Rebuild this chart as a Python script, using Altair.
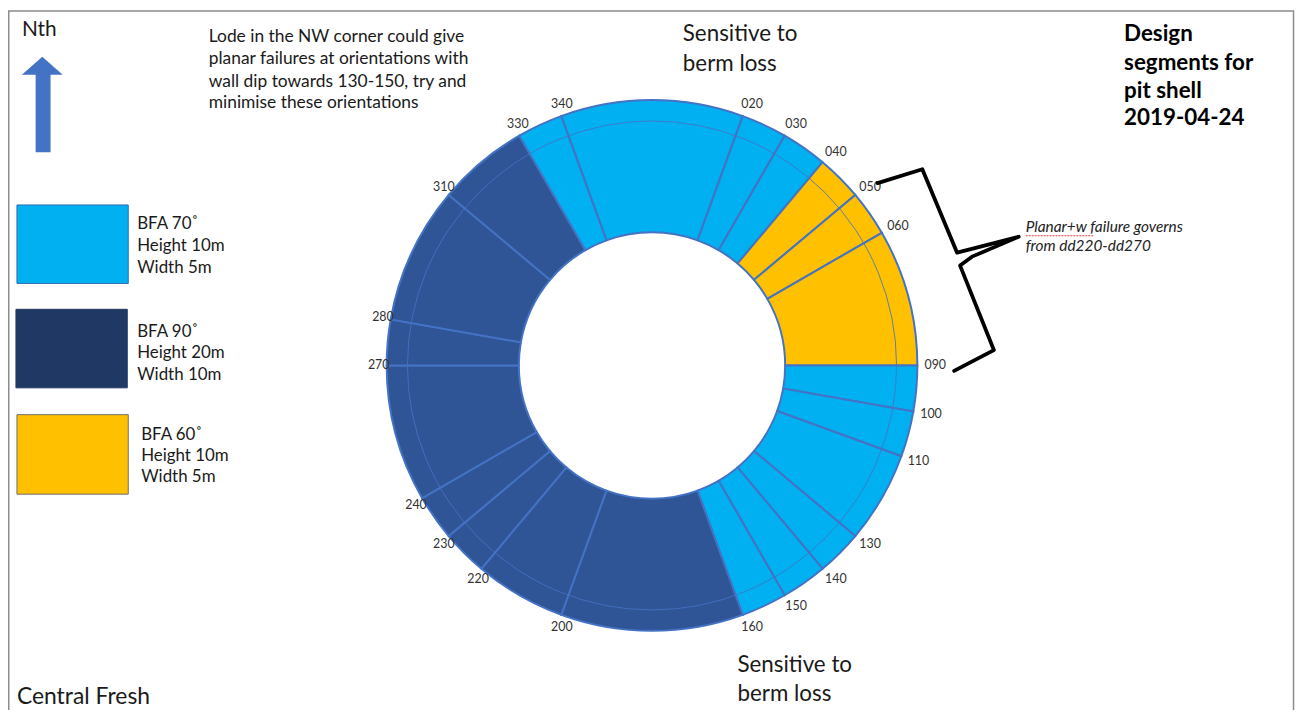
import math
import altair as alt
import pandas as pd

# ---------------- data ----------------
seg_start = [340, 20, 30, 40, 50, 60, 90, 100, 110, 130, 140, 150, 160, 200, 220, 230, 240, 270, 280, 310, 330]
seg_end = [20, 30, 40, 50, 60, 90, 100, 110, 130, 140, 150, 160, 200, 220, 230, 240, 270, 280, 310, 330, 340]
seg_design = (["BFA 70"] * 3 + ["BFA 60"] * 3 + ["BFA 70"] * 6 + ["BFA 90"] * 8 + ["BFA 70"])

tick_deg = [340, 20, 30, 40, 50, 60, 90, 100, 110, 130, 140, 150, 160, 200, 220, 230, 240, 270, 280, 310, 330]
tick_text = ["340", "020", "030", "040", "050", "060", "090", "100", "110", "130", "140",
             "150", "160", "200", "220", "230", "240", "270", "280", "310", "330"]

design_names = ["BFA 70", "BFA 90", "BFA 60"]
legend_lines = [["BFA 70˚", "Height 10m", "Width 5m"],
                ["BFA 90˚", "Height 20m", "Width 10m"],
                ["BFA 60˚", "Height 10m", "Width 5m"]]

note_lines = ["Lode in the NW corner could give",
              "planar failures at orientations with",
              "wall dip towards 130-150, try and",
              "minimise these orientations"]
title_lines = ["Design", "segments for", "pit shell", "2019-04-24"]
sensitive_lines = ["Sensitive to", "berm loss"]
planar_lines = ["Planar+w failure governs", "from dd220-dd270"]

# ---------------- styles / layout ----------------
ring_colors = ["#00B0F0", "#2F5597", "#FFC000"]
legend_fill = ["#00B0F0", "#1F3864", "#FFC000"]
legend_stroke = ["#2F6EB0", "#1F3864", "#6E6E6E"]
FONT = "Lato"
W, H = 1296, 702
OFF = 8  # page margin -> coordinates below are page pixels
CX, CY = 656 - OFF, 365.5 - OFF
R_OUT, R_IN, R_GRID, R_LABEL = 267, 134, 246, 280

xs = alt.Scale(domain=[OFF, OFF + W], nice=False, zero=False)
ys = alt.Scale(domain=[OFF, OFF + H], nice=False, zero=False, reverse=True)
theta_scale = alt.Scale(domain=[0, 360], range=[0, 2 * math.pi])


def X(f="x"):
    return alt.X(f"{f}:Q", scale=xs, axis=None)


def Y(f="y"):
    return alt.Y(f"{f}:Q", scale=ys, axis=None)


# ---------------- ring ----------------
seg = pd.DataFrame({
    "start": [s if s < e else s - 360 for s, e in zip(seg_start, seg_end)],
    "end": seg_end,
    "design": seg_design,
})

ring = alt.Chart(seg).mark_arc(
    radius=R_OUT, radius2=R_IN, stroke="#4472C4", strokeWidth=2
).encode(
    theta=alt.Theta("start:Q", scale=theta_scale, stack=None),
    theta2="end:Q",
    color=alt.Color("design:N", scale=alt.Scale(domain=design_names, range=ring_colors), legend=None),
    x=alt.value(CX), y=alt.value(CY),
)

grid = alt.Chart(pd.DataFrame({"a": [0], "b": [360]})).mark_arc(
    radius=R_GRID, fillOpacity=0, stroke="#4472C4", strokeWidth=1, strokeOpacity=0.85
).encode(
    theta=alt.Theta("a:Q", scale=theta_scale, stack=None),
    theta2="b:Q",
    x=alt.value(CX), y=alt.value(CY),
)

ticks = pd.DataFrame({"deg": tick_deg, "label": tick_text})
tick_labels = alt.Chart(ticks).mark_text(
    radius=R_LABEL, font=FONT, fontSize=12.5, color="#333333", dx=5
).encode(
    theta=alt.Theta("deg:Q", scale=theta_scale, stack=None),
    text="label:N",
    x=alt.value(CX), y=alt.value(CY),
)


# ---------------- annotations ----------------
def text_block(x, ys_list, lines, size, weight="normal", style="normal", color="#1a1a1a"):
    df = pd.DataFrame({"x": [x] * len(lines), "y": ys_list, "t": lines})
    return alt.Chart(df).mark_text(
        align="left", baseline="middle", font=FONT, fontSize=size,
        fontWeight=weight, fontStyle=style, color=color
    ).encode(x=X(), y=Y(), text="t:N")


texts = [
    text_block(22, [28], ["Nth"], 21),
    text_block(210, [35, 57.5, 80, 101.5], note_lines, 17.5),
    text_block(687, [32, 62], sensitive_lines, 22.5),
    text_block(742, [667, 696], sensitive_lines, 22.5),
    text_block(17, [699], ["Central Fresh"], 23),
    text_block(1131, [32, 61, 89, 117], title_lines, 22.5, weight="bold", color="#000000"),
    text_block(138, [223, 245, 267], legend_lines[0], 17),
    text_block(138, [332, 353, 375], legend_lines[1], 17),
    text_block(142, [435, 457, 478], legend_lines[2], 17),
    text_block(1032, [226, 245], planar_lines, 15.5, style="italic", color="#222222"),
]

legend_boxes = pd.DataFrame({
    "x": [17, 16, 17], "x1": [129, 128, 129],
    "y": [204, 309, 415], "y1": [283, 388, 495],
    "fill": legend_fill, "stroke": legend_stroke,
})
boxes = alt.Chart(legend_boxes).mark_rect(strokeWidth=1).encode(
    x=X(), x2="x1:Q", y=Y(), y2="y1:Q",
    fill=alt.Fill("fill:N", scale=None), stroke=alt.Stroke("stroke:N", scale=None),
)

bracket_pts = pd.DataFrame({
    "x": [883, 928, 963, 1025, 978, 966, 1000, 960],
    "y": [182, 168, 252, 236, 256, 265, 350, 371],
    "o": list(range(8)),
})
bracket = alt.Chart(bracket_pts).mark_line(
    color="black", strokeWidth=3.8, strokeJoin="round", strokeCap="round"
).encode(x=X(), y=Y(), order="o:O")

squiggle = alt.Chart(pd.DataFrame({"x": [1032], "x1": [1100], "y": [235]})).mark_rule(
    color="#E03A3A", strokeWidth=1.2, strokeDash=[2, 1]
).encode(x=X(), x2="x1:Q", y=Y())

shaft = alt.Chart(pd.DataFrame({"x": [43.3], "y": [72], "y1": [151]})).mark_rule(
    color="#4472C4", strokeWidth=15
).encode(x=X(), y=Y(), y2="y1:Q")

head = alt.Chart(pd.DataFrame({"x": [42.5], "y": [64]})).mark_point(
    shape="M-1,0.44L0,-0.44L1,0.44Z", size=1681, filled=True, opacity=1,
    color="#4472C4", strokeWidth=0
).encode(x=X(), y=Y())

frame = alt.Chart(pd.DataFrame({"x": [8.75], "x1": [1301.5], "y": [8.75], "y1": [740]})).mark_rect(
    fill="transparent", stroke="#8C8C8C", strokeWidth=1.5
).encode(x=X(), x2="x1:Q", y=Y(), y2="y1:Q")

chart = alt.layer(
    frame, ring, grid, tick_labels, boxes, bracket, squiggle, shaft, head, *texts
).properties(
    width=W, height=H,
    autosize=alt.AutoSizeParams(type="none"),
    padding=0,
    background="white",
).configure_view(stroke=None)

chart.save("out.html", embed_options={"renderer": "svg", "actions": False})
